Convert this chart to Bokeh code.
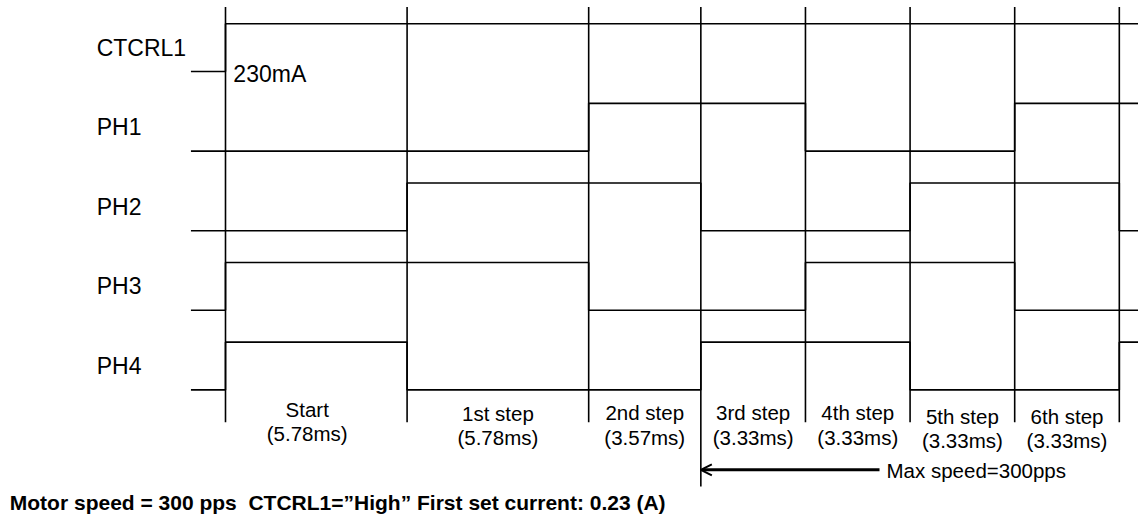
import numpy as np
from bokeh.plotting import figure
from bokeh.models import Range1d, Arrow, OpenHead
from bokeh.core.properties import value
from bokeh.embed import file_html
from bokeh.resources import INLINE

# ---------------- data ----------------
signals = ["CTCRL1", "PH1", "PH2", "PH3", "PH4"]
step_names = ["Start", "1st step", "2nd step", "3rd step", "4th step", "5th step", "6th step"]
step_ms = [5.78, 5.78, 3.57, 3.33, 3.33, 3.33, 3.33]
# logic state in each step, last entry = state after the 6th step
ctcrl1 = [1, 1, 1, 1, 1, 1, 1, 1]
ph1 = [0, 0, 1, 1, 0, 0, 1, 1]
ph2 = [0, 1, 1, 0, 0, 1, 1, 0]
ph3 = [1, 1, 0, 0, 1, 1, 0, 0]
ph4 = [1, 0, 0, 1, 1, 0, 0, 1]
current_label = "230mA"
max_speed_step = 3          # index of the step where max speed starts
max_speed_label = "Max speed=300pps"
caption = "Motor speed = 300 pps \u00a0CTCRL1=\u201dHigh\u201d First set current: 0.23 (A)"

# ---------------- layout / style ----------------
FONT = "Liberation Sans"
W, H = 1138, 519
X0, PPX = 225.0, 31.417     # screen px of t=0, px per ms
Y0, PPU = 389.4, 79.6       # screen px of PH4 low level, px per row
HIGH = 0.6                  # height of a high level in row units
PRE = -1.1                  # start of the idle (low) stub before t=0
TAIL = 31.0                 # lines run off to the right edge
GRID_TOP = 4.81
GRID_BOT = -0.406
GRID_BOT_LONG = -1.214

def ty(px):
    return (Y0 - px) / PPU

states = [ctcrl1, ph1, ph2, ph3, ph4]
rows = [4, 3, 2, 1, 0]
bounds = np.concatenate([[0.0], np.cumsum(step_ms)])
mids = (bounds[:-1] + bounds[1:]) / 2
dur_labels = ["(%.2fms)" % d for d in step_ms]

p = figure(width=W, height=H, output_backend="svg", toolbar_location=None,
           x_axis_location=None, y_axis_location=None,
           x_range=Range1d(-X0 / PPX, (W - X0) / PPX), y_range=Range1d(ty(H), ty(0)),
           min_border=0, outline_line_color=None, background_fill_color="white")
p.xgrid.visible = False
p.ygrid.visible = False

# waveforms
edges = list(bounds) + [TAIL]
for row, st in zip(rows, states):
    xs = [PRE, 0.0]
    ys = [row, row]
    for k, s in enumerate(st):
        lvl = row + HIGH * s
        xs += [edges[k], edges[k + 1]]
        ys += [lvl, lvl]
    p.line(xs, ys, line_color="black", line_width=1.6)

# step boundaries
bots = [GRID_BOT_LONG if i == max_speed_step else GRID_BOT for i in range(len(bounds))]
p.segment(x0=bounds, y0=[GRID_TOP] * len(bounds), x1=bounds, y1=bots,
          line_color="black", line_width=1.6)

# signal names
p.text(x=[-4.1] * len(signals), y=[r + HIGH / 2 for r in rows], text=signals,
       text_font=value(FONT), text_font_size="23px", text_color="black",
       text_align="left", text_baseline="middle")

# current label
p.text(x=[0.25], y=[ty(73.7)], text=[current_label], text_font=value(FONT),
       text_font_size="23px", text_color="black", text_align="left", text_baseline="middle")

# step labels
nudge_px = [-3.5, 0.5, 0, 0, 0, 3.5, 3.5]
xnudge = [-0.29, 0, 0, 0, 0, 0, 0]
y1 = [ty(412.0 + n) for n in nudge_px]
y2 = [ty(436.5 + n) for n in nudge_px]
xm = [m + dx for m, dx in zip(mids, xnudge)]
p.text(x=xm, y=y1, text=step_names, text_font=value(FONT), text_font_size="20.5px",
       text_color="black", text_align="center", text_baseline="middle")
p.text(x=xm, y=y2, text=dur_labels, text_font=value(FONT), text_font_size="20.5px",
       text_color="black", text_align="center", text_baseline="middle")

# max speed arrow
p.add_layout(Arrow(end=OpenHead(size=11, line_width=2, line_color="black"),
                   x_start=(879 - X0) / PPX, y_start=ty(469.3),
                   x_end=bounds[max_speed_step], y_end=ty(469.3),
                   line_width=3, line_color="black"))
p.text(x=[(886 - X0) / PPX], y=[ty(470)], text=[max_speed_label], text_font=value(FONT),
       text_font_size="20.5px", text_color="black", text_align="left", text_baseline="middle")

# caption
p.text(x=[(9.3 - X0) / PPX], y=[ty(502)], text=[caption], text_font=value(FONT),
       text_font_size="21px", text_font_style="bold", text_color="black",
       text_align="left", text_baseline="middle")

open("out.html", "w").write(file_html(p, INLINE))
